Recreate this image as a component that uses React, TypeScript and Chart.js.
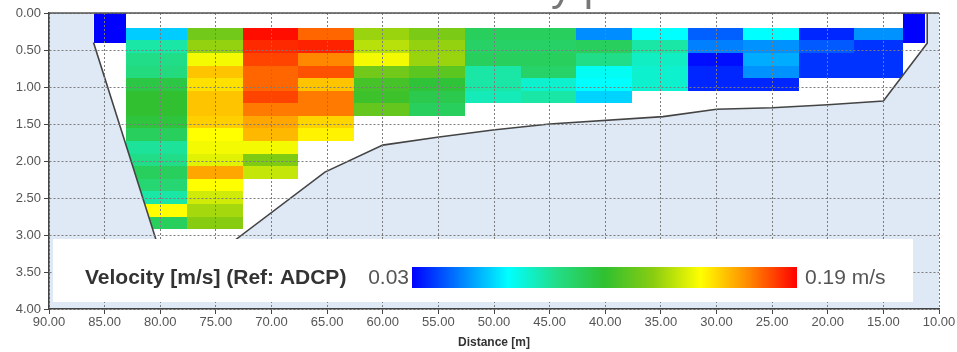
import React, { useEffect, useRef } from "react";
import { Chart, registerables } from "chart.js";

Chart.register(...registerables);

// ---------- data ----------
const distanceMin = 10;
const distanceMax = 90;
const distanceStep = 5;
const depthMin = 0;
const depthMax = 4;
const depthStep = 0.5;

// column edges of the ADCP ensembles (distance, m)
const columnEdges = [83.1, 77.6, 72.6, 67.6, 62.6, 57.6, 52.6, 47.6, 42.6, 37.6, 32.6, 27.6, 22.6, 17.6, 13.2];
const firstCellDepth = 0.2;
const cellHeight = 0.17;

// velocity per column (m/s), top row first
const col1 = [0.062, 0.085, 0.09, 0.092, 0.105, 0.11, 0.11, 0.107, 0.1, 0.087, 0.09, 0.1, 0.095, 0.085, 0.15, 0.1];
const col2 = [0.125, 0.132, 0.148, 0.16, 0.155, 0.16, 0.16, 0.158, 0.15, 0.148, 0.145, 0.165, 0.15, 0.142, 0.135, 0.13];
const col3 = [0.188, 0.184, 0.18, 0.175, 0.175, 0.18, 0.172, 0.165, 0.162, 0.148, 0.128, 0.14];
const col4 = [0.175, 0.185, 0.17, 0.178, 0.16, 0.172, 0.172, 0.157, 0.152];
const col5 = [0.133, 0.138, 0.148, 0.125, 0.115, 0.113, 0.122];
const col6 = [0.127, 0.132, 0.133, 0.12, 0.108, 0.103, 0.1];
const col7 = [0.1, 0.098, 0.1, 0.085, 0.085, 0.082];
const col8 = [0.1, 0.098, 0.1, 0.097, 0.078, 0.085];
const col9 = [0.052, 0.1, 0.09, 0.072, 0.07, 0.063];
const col10 = [0.07, 0.085, 0.08, 0.078, 0.078];
const col11 = [0.045, 0.05, 0.032, 0.036, 0.036];
const col12 = [0.07, 0.053, 0.057, 0.053, 0.036];
const col13 = [0.036, 0.044, 0.038, 0.038];
const col14 = [0.053, 0.038, 0.038, 0.038];
const velocityColumns = [col1, col2, col3, col4, col5, col6, col7, col8, col9, col10, col11, col12, col13, col14];

// edge (bank) cells
const leftEdgeDistance = [86.0, 83.1];
const rightEdgeDistance = [13.2, 11.3];
const edgeDepth = [0, 0.4];
const edgeVelocity = 0.03;

// channel bed
const bedDistance = [86.0, 79.0, 65.2, 60.0, 55.1, 50.1, 45.0, 34.8, 30.0, 25.0, 20.0, 15.0, 11.06, 11.06];
const bedDepth = [0.4, 3.72, 2.15, 1.785, 1.68, 1.58, 1.5, 1.4, 1.3, 1.28, 1.24, 1.19, 0.41, 0.0];

const velocityMin = 0.03;
const velocityMax = 0.19;
const legendTitle = "Velocity [m/s] (Ref: ADCP)";
const velocityUnit = "m/s";
const xAxisTitle = "Distance [m]";
const topTitleFragment = "y p";

// ---------- styles ----------
const FONT = '"Liberation Sans", Arial, sans-serif';
const colorStops: [number, string][] = [
  [0, "#0000ff"],
  [0.125, "#0080ff"],
  [0.25, "#00ffff"],
  [0.375, "#22dd88"],
  [0.5, "#30c030"],
  [0.625, "#88cc11"],
  [0.75, "#ffff00"],
  [0.875, "#ff8800"],
  [1, "#ff0000"],
];

function hexToRgb(h: string) {
  const n = parseInt(h.slice(1), 16);
  return [(n >> 16) & 255, (n >> 8) & 255, n & 255];
}

function velocityColor(v: number) {
  let t = (v - velocityMin) / (velocityMax - velocityMin);
  t = Math.max(0, Math.min(1, t));
  for (let i = 1; i < colorStops.length; i++) {
    const [t1, c1] = colorStops[i];
    const [t0, c0] = colorStops[i - 1];
    if (t <= t1) {
      const f = (t - t0) / (t1 - t0);
      const a = hexToRgb(c0);
      const b = hexToRgb(c1);
      const r = a.map((x, k) => Math.round(x + (b[k] - x) * f));
      return `rgb(${r[0]},${r[1]},${r[2]})`;
    }
  }
  return colorStops[colorStops.length - 1][1];
}

const sectionPlugin = {
  id: "section",
  beforeDraw(chart: any) {
    const { ctx, chartArea } = chart;
    ctx.save();
    ctx.fillStyle = "#dfe9f5";
    ctx.fillRect(chartArea.left, chartArea.top, chartArea.right - chartArea.left, chartArea.bottom - chartArea.top);
    ctx.restore();
  },
  beforeDatasetsDraw(chart: any) {
    const { ctx } = chart;
    const xs = chart.scales.x;
    const ys = chart.scales.y;
    const px = (d: number) => xs.getPixelForValue(d);
    const py = (d: number) => ys.getPixelForValue(d);

    // water polygon
    ctx.save();
    ctx.beginPath();
    ctx.moveTo(px(bedDistance[0]), py(0));
    for (let i = 0; i < bedDistance.length; i++) ctx.lineTo(px(bedDistance[i]), py(bedDepth[i]));
    ctx.closePath();
    ctx.fillStyle = "#ffffff";
    ctx.fill();
    ctx.clip();

    const rect = (d0: number, d1: number, z0: number, z1: number, v: number) => {
      const x0 = Math.round(Math.min(px(d0), px(d1)));
      const x1 = Math.round(Math.max(px(d0), px(d1)));
      const y0 = Math.round(Math.min(py(z0), py(z1)));
      const y1 = Math.round(Math.max(py(z0), py(z1)));
      ctx.fillStyle = velocityColor(v);
      ctx.fillRect(x0, y0, x1 - x0, y1 - y0);
    };

    velocityColumns.forEach((col, c) => {
      col.forEach((v, r) => {
        rect(columnEdges[c], columnEdges[c + 1], firstCellDepth + r * cellHeight, firstCellDepth + (r + 1) * cellHeight, v);
      });
    });
    ctx.restore();

    ctx.save();
    rect(leftEdgeDistance[0], leftEdgeDistance[1], edgeDepth[0], edgeDepth[1], edgeVelocity);
    rect(rightEdgeDistance[0], rightEdgeDistance[1], edgeDepth[0], edgeDepth[1], edgeVelocity);
    ctx.restore();
  },
  afterDraw(chart: any) {
    const { ctx, chartArea } = chart;
    const ys = chart.scales.y;
    ctx.save();
    // top border (water surface line)
    ctx.strokeStyle = "#555";
    ctx.lineWidth = 1.5;
    ctx.beginPath();
    const y0 = ys.getPixelForValue(depthMin);
    ctx.moveTo(chartArea.left, y0);
    ctx.lineTo(chartArea.right, y0);
    ctx.stroke();

    // partially visible title
    ctx.fillStyle = "#777";
    ctx.font = `42px ${FONT}`;
    ctx.textAlign = "left";
    ctx.textBaseline = "alphabetic";
    ctx.fillText(topTitleFragment, 551, 0);

    // legend box
    const bx = chartArea.left + 4;
    const by = 239;
    const bw = 913 - bx;
    const bh = 63;
    ctx.fillStyle = "#ffffff";
    ctx.fillRect(bx, by, bw, bh);

    const cy = 278;
    ctx.textBaseline = "middle";
    ctx.fillStyle = "#333";
    ctx.font = `bold 21px ${FONT}`;
    ctx.fillText(legendTitle, 85, cy);

    ctx.fillStyle = "#555";
    ctx.font = `21px ${FONT}`;
    ctx.textAlign = "right";
    ctx.fillText(velocityMin.toFixed(2), 409, cy);

    const gx0 = 412;
    const gx1 = 797;
    const grad = ctx.createLinearGradient(gx0, 0, gx1, 0);
    colorStops.forEach(([t, c]) => grad.addColorStop(t, c));
    ctx.fillStyle = grad;
    ctx.fillRect(gx0, 267, gx1 - gx0, 21);

    ctx.fillStyle = "#555";
    ctx.textAlign = "left";
    ctx.fillText(`${velocityMax.toFixed(2)} ${velocityUnit}`, 805, cy);
    ctx.restore();
  },
};

export default function App() {
  const ref = useRef<HTMLCanvasElement | null>(null);
  useEffect(() => {
    document.body.style.margin = "0";
    const canvas = ref.current;
    if (!canvas) return;
    const bedPoints = bedDistance.map((d, i) => ({ x: d, y: bedDepth[i] }));
    const tickFont = { family: FONT, size: 13 };
    const gridOpts = { color: "#7c7c7c", lineWidth: 1, tickLength: 5, tickColor: "#444", tickBorderDash: [], z: 1 };
    const borderOpts = { color: "#444", width: 1.5, dash: [2, 2], z: 2 };
    const chart = new Chart(canvas, {
      type: "scatter",
      data: {
        datasets: [
          {
            data: bedPoints,
            showLine: true,
            borderColor: "#444",
            borderWidth: 1.6,
            pointRadius: 0,
            fill: false,
            tension: 0,
          },
        ],
      },
      options: {
        animation: false,
        responsive: false,
        maintainAspectRatio: false,
        layout: { padding: { top: 13, right: 18, left: 0, bottom: 0 } },
        plugins: {
          legend: { display: false },
          tooltip: { enabled: false },
          title: { display: false },
        },
        scales: {
          x: {
            type: "linear",
            position: "bottom",
            min: distanceMin,
            max: distanceMax,
            reverse: true,
            ticks: {
              stepSize: distanceStep,
              autoSkip: false,
              maxRotation: 0,
              padding: 1,
              color: "#555",
              font: tickFont,
              callback: (v: any) => Number(v).toFixed(2),
            },
            grid: gridOpts,
            border: borderOpts,
            title: {
              display: true,
              text: xAxisTitle,
              color: "#333",
              font: { family: FONT, size: 12, weight: "bold" },
              padding: { top: 0, bottom: 2 },
            },
            afterFit: (s: any) => {
              s.height = 43;
            },
          },
          y: {
            type: "linear",
            position: "left",
            min: depthMin,
            max: depthMax,
            reverse: true,
            ticks: {
              stepSize: depthStep,
              autoSkip: false,
              padding: 3,
              color: "#555",
              font: tickFont,
              callback: (v: any) => Number(v).toFixed(2),
            },
            grid: gridOpts,
            border: borderOpts,
            afterFit: (s: any) => {
              s.width = 49;
            },
          },
        },
      } as any,
      plugins: [sectionPlugin],
    });
    return () => chart.destroy();
  }, []);
  return (
    <div style={{ width: 957, height: 352 }}>
      <canvas ref={ref} width={957} height={352} style={{ display: "block" }} />
    </div>
  );
}
